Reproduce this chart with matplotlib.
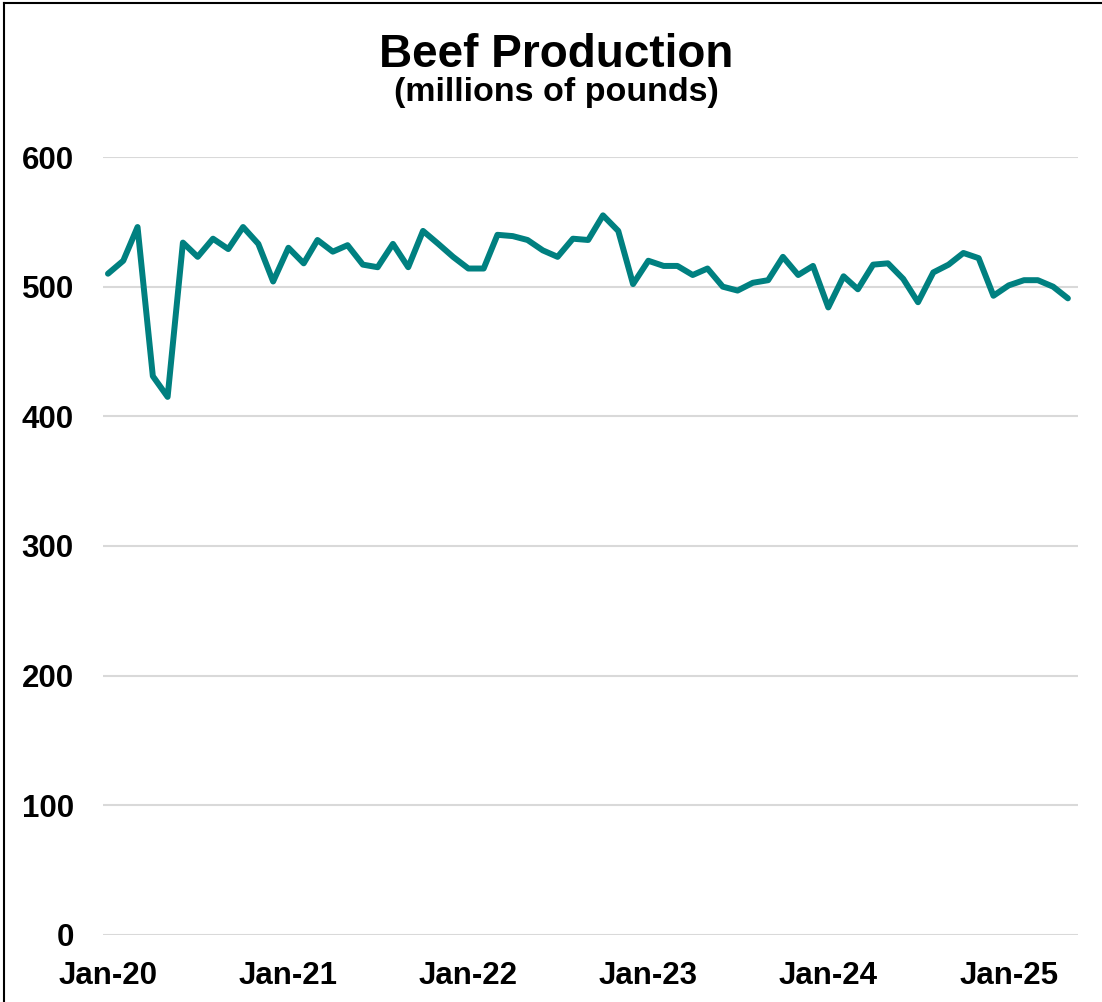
import matplotlib
matplotlib.use("Agg")
import matplotlib.pyplot as plt
import matplotlib.dates as mdates
from matplotlib.lines import Line2D
import pandas as pd

# Monthly beef production, millions of pounds (Jan 2020 - May 2025)
beef = [
    510, 520, 546, 431, 415, 534, 523, 537, 529, 546, 533, 504,
    530, 518, 536, 527, 532, 517, 515, 533, 515, 543, 533, 523,
    514, 514, 540, 539, 536, 528, 523, 537, 536, 555, 543, 502,
    520, 516, 516, 509, 514, 500, 497, 503, 505, 523, 509, 516,
    484, 508, 498, 517, 518, 506, 488, 511, 517, 526, 522, 493,
    501, 505, 505, 500, 491,
]
months = pd.date_range("2020-01-01", periods=len(beef), freq="MS")
y_ticks = [0, 100, 200, 300, 400, 500, 600]

plt.rcParams['font.family'] = ['Liberation Sans', 'DejaVu Sans']
plt.rcParams['font.weight'] = 'bold'

fig = plt.figure(figsize=(11.02, 10.02), dpi=100)
fig.patch.set_linewidth(0)
ax = fig.add_axes([0.0935, 0.0669, 0.8845, 0.7764])

ax.plot(months, beef, color='#008080', linewidth=4.3,
        solid_joinstyle='round', solid_capstyle='round')

ax.set_ylim(0, 600)
ax.set_yticks(y_ticks)
ax.set_xlim(months[0] - pd.Timedelta(days=10), months[-1] + pd.Timedelta(days=20))
ax.xaxis.set_major_locator(mdates.MonthLocator(bymonth=1))
ax.xaxis.set_major_formatter(mdates.DateFormatter('%b-%y'))

ax.grid(axis='y', color='#d9d9d9', linewidth=1.5)
ax.set_axisbelow(True)
for side in ax.spines.values():
    side.set_visible(False)
ax.tick_params(axis='both', length=0, labelsize=22.5)
ax.tick_params(axis='y', pad=21)
ax.tick_params(axis='x', pad=18.5)
for lbl in ax.get_xticklabels() + ax.get_yticklabels():
    lbl.set_fontweight('bold')

fig.text(0.505, 1 - 67 / 1002, 'Beef Production', ha='center', va='baseline',
         fontsize=33, fontweight='bold')
fig.text(0.505, 1 - 101 / 1002, '(millions of pounds)', ha='center', va='baseline',
         fontsize=24.5, fontweight='bold')

# outer chart frame (top and left edges)
fig.add_artist(Line2D([0.0035, 1.0], [0.997, 0.997], transform=fig.transFigure,
                      color='black', linewidth=1.5))
fig.add_artist(Line2D([0.0035, 0.0035], [0.0, 0.997], transform=fig.transFigure,
                      color='black', linewidth=1.5))

fig.savefig('out.png', dpi=100, facecolor='white')
